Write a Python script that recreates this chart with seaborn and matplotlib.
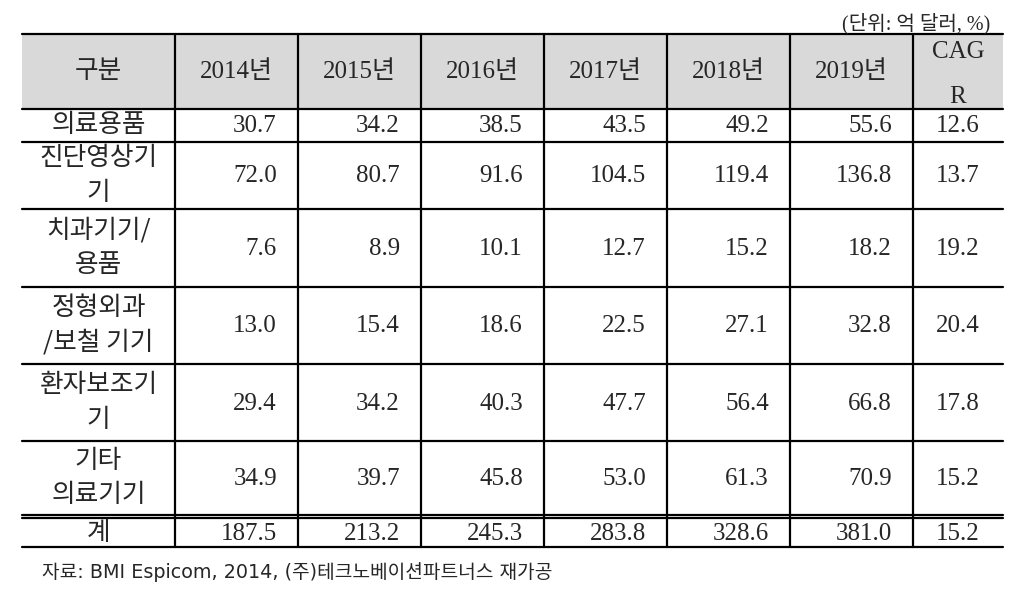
import matplotlib
matplotlib.use("Agg")
import matplotlib.pyplot as plt
import pandas as pd
import seaborn as sns
from matplotlib.patches import Rectangle

# ---------------------------------------------------
# Data
# ---------------------------------------------------
categories = [
    "의료용품",
    "진단영상기\n기",
    "치과기기/\n용품",
    "정형외과\n/보철 기기",
    "환자보조기\n기",
    "기타\n의료기기",
    "계",
]
year_labels = ["2014년", "2015년", "2016년", "2017년", "2018년", "2019년"]
v2014 = [30.7, 72.0, 7.6, 13.0, 29.4, 34.9, 187.5]
v2015 = [34.2, 80.7, 8.9, 15.4, 34.2, 39.7, 213.2]
v2016 = [38.5, 91.6, 10.1, 18.6, 40.3, 45.8, 245.3]
v2017 = [43.5, 104.5, 12.7, 22.5, 47.7, 53.0, 283.8]
v2018 = [49.2, 119.4, 15.2, 27.1, 56.4, 61.3, 328.6]
v2019 = [55.6, 136.8, 18.2, 32.8, 66.8, 70.9, 381.0]
cagr = [12.6, 13.7, 19.2, 20.4, 17.8, 15.2, 15.2]

header_first = "구분"
header_last = "CAG\nR"
unit_text = "(단위: 억 달러, %)"
source_text = "자료: BMI Espicom, 2014, (주)테크노베이션파트너스 재가공"

df = pd.DataFrame(
    dict(zip(year_labels, [v2014, v2015, v2016, v2017, v2018, v2019])),
    index=categories,
)
df["CAGR"] = cagr

# ---------------------------------------------------
# Layout (pixel grid)
# ---------------------------------------------------
col_edges = [22, 175, 298, 421, 544, 667, 790, 913, 1003]
row_edges = [34, 109, 142, 209, 287, 364, 441, 515, 547]
double_gap = 3

sns.set_theme(style="white")
serif = ["Liberation Serif", "Noto Sans CJK KR"]
kor = ["Noto Sans CJK KR", "DejaVu Sans"]
sans = ["DejaVu Sans", "Noto Sans CJK KR"]
plt.rcParams["font.family"] = serif

fig = plt.figure(figsize=(10.19, 5.90), dpi=100)
ax = fig.add_axes([0, 0, 1, 1])
ax.set_xlim(0, 1019)
ax.set_ylim(590, 0)
ax.axis("off")

# header background
ax.add_patch(Rectangle((col_edges[0], row_edges[0]), col_edges[-1] - col_edges[0],
                       row_edges[1] - row_edges[0], color="#d9d9d9", lw=0))

lw = 1.6
for y in row_edges:
    ax.plot([col_edges[0], col_edges[-1]], [y, y], color="black", lw=lw)
ax.plot([col_edges[0], col_edges[-1]], [row_edges[-2] + double_gap] * 2,
        color="black", lw=lw)
for x in col_edges[1:-1]:
    ax.plot([x, x], [row_edges[0], row_edges[-1]], color="black", lw=lw)

NUM_FS = 18
KOR_FS = 18.5

# header text
hy = (row_edges[0] + row_edges[1]) / 2
ax.text((col_edges[0] + col_edges[1]) / 2, hy, header_first, ha="center",
        va="center", fontsize=KOR_FS, family=kor)
for i, lab in enumerate(year_labels):
    cx = (col_edges[i + 1] + col_edges[i + 2]) / 2
    ax.text(cx, hy, lab, ha="center", va="center", fontsize=NUM_FS, family=serif)
ax.text((col_edges[-2] + col_edges[-1]) / 2, hy + 3, header_last, ha="center",
        va="center", fontsize=NUM_FS, linespacing=2.35, family=serif)

# body
for r, cat in enumerate(df.index):
    top = row_edges[r + 1] + (double_gap if r == len(df.index) - 1 else 0)
    cy = (top + row_edges[r + 2]) / 2
    ax.text((col_edges[0] + col_edges[1]) / 2, cy, cat, ha="center", va="center",
            fontsize=KOR_FS, family=kor, linespacing=1.45, multialignment="center")
    for c, col in enumerate(year_labels):
        ax.text(col_edges[c + 2] - 21, cy + 1, f"{df.loc[cat, col]:.1f}", ha="right",
                va="center", fontsize=NUM_FS, family=serif)
    ax.text((col_edges[-2] + col_edges[-1]) / 2, cy + 1, f"{df.loc[cat, 'CAGR']:.1f}",
            ha="center", va="center", fontsize=NUM_FS, family=serif)

ax.text(990, 24, unit_text, ha="right", va="center", fontsize=14.5, family=serif)
ax.text(42, 572, source_text, ha="left", va="center", fontsize=13.8, family=sans)

fig.savefig("out.png", dpi=100)
